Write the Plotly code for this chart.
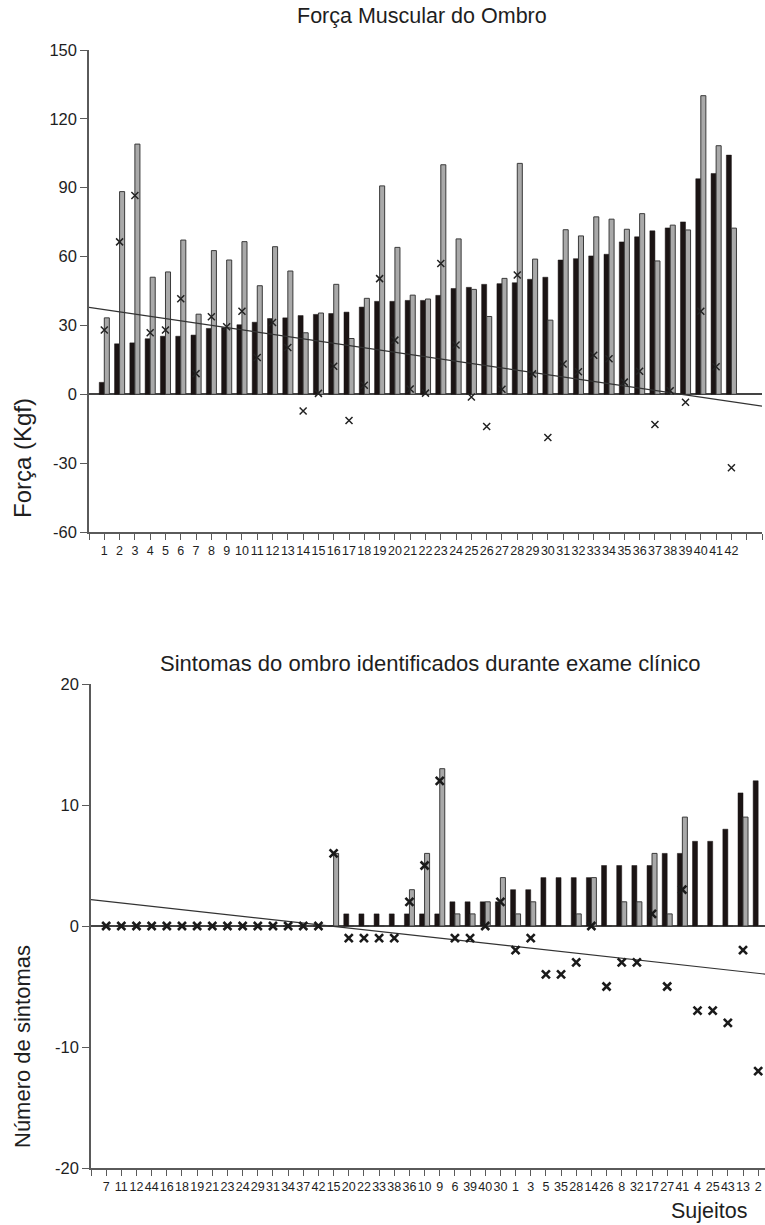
import numpy as np
import plotly.graph_objects as go

W, H = 765, 1225

# ---------------- Data: top chart (Força Muscular do Ombro) ----------------
subjects_top = [str(i) for i in range(1, 43)]
black_top = [5.2, 22.0, 22.4, 24.2, 25.3, 25.3, 25.8, 28.7, 29.1, 30.3, 31.4, 33.0, 33.3, 34.3,
             34.8, 35.2, 35.8, 38.0, 40.5, 40.5, 40.9, 40.9, 43.1, 46.1, 46.6, 47.9, 48.2, 48.6,
             50.1, 51.0, 58.5, 59.1, 60.3, 61.0, 66.4, 68.6, 71.2, 72.5, 75.1, 93.9, 96.2, 104.2]
gray_top = [33.3, 88.3, 109.0, 51.0, 53.3, 67.2, 34.9, 62.6, 58.5, 66.5, 47.3, 64.3, 53.7, 26.8,
            35.4, 47.9, 24.3, 41.8, 90.8, 64.0, 43.2, 41.5, 100.0, 67.7, 45.7, 33.9, 50.5, 100.6,
            58.9, 32.3, 71.7, 69.0, 77.3, 76.3, 71.9, 78.7, 58.1, 73.7, 71.6, 130.1, 108.3, 72.4]
diff_top = [28.0, 66.4, 86.6, 26.8, 28.0, 41.6, 9.0, 33.8, 29.4, 36.2, 16.0, 31.3, 20.4, -7.3,
            0.4, 12.2, -11.4, 3.9, 50.4, 23.6, 2.3, 0.5, 57.0, 21.5, -1.2, -14.0, 2.2, 52.0,
            8.9, -18.8, 13.2, 9.8, 17.0, 15.5, 5.3, 10.0, -13.2, 1.5, -3.5, 36.2, 12.0, -32.0]
yticks_top = [-60, -30, 0, 30, 60, 90, 120, 150]
yticklabels_top = ["-60", "-30", "0", "30", "60", "90", "120", "150"]

# ---------------- Data: bottom chart (Sintomas do ombro) ----------------
subjects_bot = ["7", "11", "12", "44", "16", "18", "19", "21", "23", "24", "29", "31", "34", "37",
                "42", "15", "20", "22", "33", "38", "36", "10", "9", "6", "39", "40", "30", "1",
                "3", "5", "35", "28", "14", "26", "8", "32", "17", "27", "41", "4", "25", "43",
                "13", "2"]
black_bot = [0, 0, 0, 0, 0, 0, 0, 0, 0, 0, 0, 0, 0, 0, 0,
             0, 1, 1, 1, 1, 1, 1, 1, 2, 2, 2, 2, 3, 3, 4, 4, 4, 4, 5, 5, 5, 5, 6, 6, 7, 7, 8, 11, 12]
gray_bot = [0, 0, 0, 0, 0, 0, 0, 0, 0, 0, 0, 0, 0, 0, 0,
            6, 0, 0, 0, 0, 3, 6, 13, 1, 1, 2, 4, 1, 2, 0, 0, 1, 4, 0, 2, 2, 6, 1, 9, 0, 0, 0, 9, 0]
diff_bot = [0, 0, 0, 0, 0, 0, 0, 0, 0, 0, 0, 0, 0, 0, 0,
            6, -1, -1, -1, -1, 2, 5, 12, -1, -1, 0, 2, -2, -1, -4, -4, -3, 0, -5, -3, -3, 1, -5,
            3, -7, -7, -8, -2, -12]
yticks_bot = [-20, -10, 0, 10, 20]
yticklabels_bot = ["-20", "-10", "0", "10", "20"]

# ---------------- Styles ----------------
FONT = "Liberation Sans, Arial, sans-serif"
BLACK = "#1b1414"
GRAY = "#a9a9a9"
EDGE = "#3a3a3a"
AX = "#5a5a5a"
TXT = "#1e1e1e"
BW = 0.33

x_top = list(range(1, len(black_top) + 1))
x_bot = list(range(1, len(black_bot) + 1))

fig = go.Figure()

# top chart
fig.add_trace(go.Bar(x=x_top, y=black_top, width=BW, offset=-BW,
                     marker=dict(color=BLACK, line=dict(color=BLACK, width=0.5)),
                     xaxis="x", yaxis="y", showlegend=False))
fig.add_trace(go.Bar(x=x_top, y=gray_top, width=BW, offset=0,
                     marker=dict(color=GRAY, line=dict(color=EDGE, width=1)),
                     xaxis="x", yaxis="y", showlegend=False))
c1 = np.polyfit(x_top, diff_top, 1)
tx1 = [0, 44]
fig.add_trace(go.Scatter(x=tx1, y=list(np.polyval(c1, tx1)), mode="lines",
                         line=dict(color="#333333", width=1.2), xaxis="x", yaxis="y",
                         showlegend=False))
fig.add_trace(go.Scatter(x=x_top, y=diff_top, mode="markers",
                         marker=dict(symbol="x-thin", size=7, line=dict(width=1.5, color="#222")),
                         xaxis="x", yaxis="y", showlegend=False))

# bottom chart
fig.add_trace(go.Bar(x=x_bot, y=black_bot, width=BW, offset=-BW,
                     marker=dict(color=BLACK, line=dict(color=BLACK, width=0.5)),
                     xaxis="x2", yaxis="y2", showlegend=False))
fig.add_trace(go.Bar(x=x_bot, y=gray_bot, width=BW, offset=0,
                     marker=dict(color=GRAY, line=dict(color=EDGE, width=1)),
                     xaxis="x2", yaxis="y2", showlegend=False))
c2 = np.polyfit(x_bot, diff_bot, 1)
tx2 = [0, 44.5]
fig.add_trace(go.Scatter(x=tx2, y=list(np.polyval(c2, tx2)), mode="lines",
                         line=dict(color="#333333", width=1.2), xaxis="x2", yaxis="y2",
                         showlegend=False))
fig.add_trace(go.Scatter(x=x_bot, y=diff_bot, mode="markers",
                         marker=dict(symbol="x-thin", size=8, line=dict(width=2.6, color="#1a1a1a")),
                         xaxis="x2", yaxis="y2", showlegend=False))


def px_x(p):
    return p / W


def px_y(p):
    return 1 - p / H


axis_common = dict(showline=True, linecolor=AX, linewidth=1.5, ticks="outside",
                   tickcolor=AX, tickwidth=1.3, showgrid=False, automargin=False)

fig.update_layout(
    width=W, height=H, margin=dict(l=0, r=0, t=0, b=0),
    paper_bgcolor="white", plot_bgcolor="white", barmode="overlay",
    xaxis=dict(domain=[px_x(89), px_x(762)], range=[0, 44], anchor="y",
               tickmode="array", tickvals=list(range(0, 45)),
               ticktext=[""] + subjects_top + ["", ""], ticklen=6, tickangle=0,
               zeroline=False, **axis_common,
               tickfont=dict(family=FONT, color=TXT, size=12.5)),
    yaxis=dict(domain=[px_y(532), px_y(50)], range=[-60, 150], anchor="x",
               tickmode="array", tickvals=yticks_top, ticktext=yticklabels_top, ticklen=7,
               zeroline=True, zerolinecolor="#444", zerolinewidth=1.5, **axis_common,
               tickfont=dict(family=FONT, color=TXT, size=16.5)),
    xaxis2=dict(domain=[px_x(91), 1.0], range=[0, 44.45], anchor="y2",
                tickmode="array", tickvals=list(range(0, 45)),
                ticktext=[""] + subjects_bot, ticklen=6, tickangle=0,
                zeroline=False, **axis_common,
                tickfont=dict(family=FONT, color=TXT, size=12.5)),
    yaxis2=dict(domain=[px_y(1168), px_y(684)], range=[-20, 20], anchor="x2",
                tickmode="array", tickvals=yticks_bot, ticktext=yticklabels_bot, ticklen=7,
                zeroline=True, zerolinecolor="#444", zerolinewidth=1.5, **axis_common,
                tickfont=dict(family=FONT, color=TXT, size=16.5)),
    annotations=[
        dict(text="Força Muscular do Ombro", x=px_x(422), y=px_y(16), xref="paper", yref="paper",
             showarrow=False, xanchor="center", yanchor="middle",
             font=dict(family=FONT, size=21.5, color=TXT)),
        dict(text="Sintomas do ombro identificados durante exame clínico", x=px_x(430), y=px_y(663),
             xref="paper", yref="paper", showarrow=False, xanchor="center", yanchor="middle",
             font=dict(family=FONT, size=22, color=TXT)),
        dict(text="Força (Kgf)", x=px_x(22), y=px_y(458), xref="paper", yref="paper",
             showarrow=False, xanchor="center", yanchor="middle", textangle=-90,
             font=dict(family=FONT, size=24, color=TXT)),
        dict(text="Número de sintomas", x=px_x(22), y=px_y(1047), xref="paper", yref="paper",
             showarrow=False, xanchor="center", yanchor="middle", textangle=-90,
             font=dict(family=FONT, size=22, color=TXT)),
        dict(text="Sujeitos", x=px_x(709), y=px_y(1211), xref="paper", yref="paper",
             showarrow=False, xanchor="center", yanchor="middle",
             font=dict(family=FONT, size=21.5, color=TXT)),
    ],
)

fig.write_html("out.html", config={"displayModeBar": False},
               post_script="document.body.style.margin='0';document.body.style.overflow='hidden';")
